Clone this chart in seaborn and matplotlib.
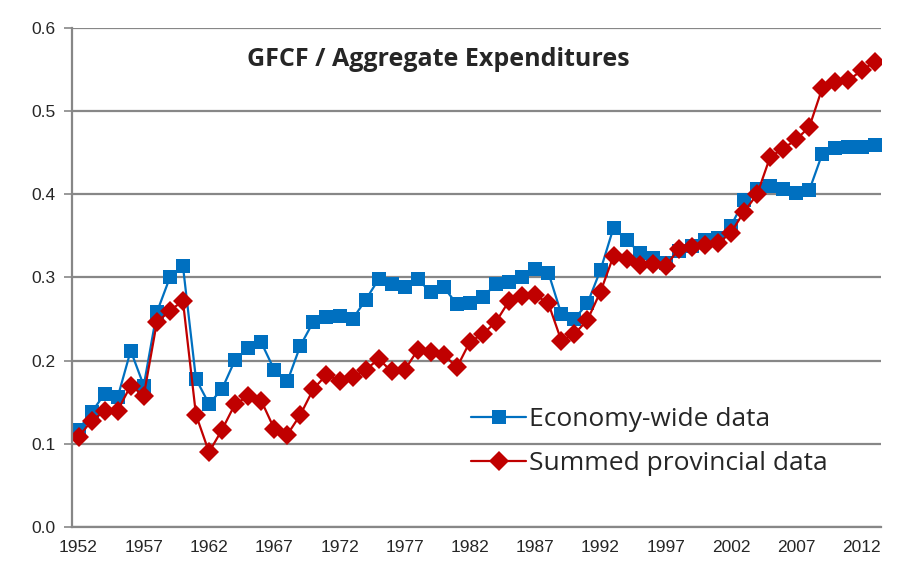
import matplotlib
matplotlib.use("Agg")
import matplotlib.pyplot as plt
import seaborn as sns
import numpy as np
import pandas as pd

years = list(range(1952, 2014))

economy_wide = [
    0.117, 0.138, 0.160, 0.156, 0.212, 0.170, 0.258, 0.300, 0.314, 0.178,
    0.148, 0.166, 0.201, 0.215, 0.222, 0.189, 0.175, 0.218, 0.247, 0.252,
    0.254, 0.250, 0.273, 0.298, 0.292, 0.288, 0.298, 0.282, 0.288, 0.268,
    0.269, 0.277, 0.292, 0.295, 0.300, 0.310, 0.306, 0.256, 0.250, 0.269,
    0.309, 0.360, 0.345, 0.330, 0.323, 0.317, 0.332, 0.338, 0.345, 0.348,
    0.362, 0.393, 0.407, 0.410, 0.407, 0.401, 0.405, 0.449, 0.456, 0.457,
    0.457, 0.459,
]

summed_provincial = [
    0.108, 0.128, 0.139, 0.140, 0.170, 0.158, 0.246, 0.260, 0.272, 0.135,
    0.090, 0.117, 0.148, 0.157, 0.152, 0.118, 0.111, 0.135, 0.166, 0.183,
    0.176, 0.180, 0.189, 0.202, 0.187, 0.189, 0.213, 0.210, 0.207, 0.192,
    0.223, 0.232, 0.247, 0.272, 0.278, 0.279, 0.269, 0.224, 0.232, 0.249,
    0.283, 0.326, 0.322, 0.315, 0.316, 0.314, 0.334, 0.337, 0.339, 0.341,
    0.354, 0.379, 0.400, 0.445, 0.455, 0.466, 0.481, 0.528, 0.535, 0.537,
    0.549, 0.559,
]

series_names = ["Economy-wide data", "Summed provincial data"]
tick_years = list(range(1952, 2013, 5))

df = pd.DataFrame({"year": years, "economy": economy_wide, "provincial": summed_provincial})

sns.set_style("white")
plt.rcParams["font.family"] = ["Liberation Sans", "DejaVu Sans"]

fig = plt.figure(figsize=(9.01, 5.61), dpi=100)
ax = fig.add_axes([0.0799, 0.0606, 0.898, 0.8895])

grid_color = "#878787"
ax.set_ylim(0, 0.6)
ax.set_xlim(1951.5, 2013.5)
ax.set_yticks(np.arange(0, 0.61, 0.1))
ax.yaxis.grid(True, color=grid_color, linewidth=1.6)
ax.set_axisbelow(True)

sns.lineplot(data=df, x="year", y="economy", ax=ax, color="#0070C0", linewidth=1.6,
             marker="s", markersize=10.5, markeredgewidth=0, label=series_names[0])
sns.lineplot(data=df, x="year", y="provincial", ax=ax, color="#C00000", linewidth=1.6,
             marker="D", markersize=10, markeredgewidth=0, label=series_names[1])

# x ticks: labels at category centres, tick marks at category boundaries
ax.set_xticks(tick_years)
ax.set_xticklabels([str(y) for y in tick_years])
ax.set_xticks([y - 0.5 for y in tick_years], minor=True)
ax.tick_params(axis="x", which="major", length=0, pad=9, labelsize=12.5)
ax.tick_params(axis="x", which="minor", length=6, width=1.2, color=grid_color, direction="out")
ax.set_yticklabels([f"{v:.1f}" for v in np.arange(0, 0.61, 0.1)])
ax.tick_params(axis="y", length=6, width=1.2, color=grid_color, direction="out", labelsize=12.5, pad=6)
ax.tick_params(bottom=False, which="major")
ax.tick_params(left=True)

for side in ["top", "right"]:
    ax.spines[side].set_visible(False)
for side in ["left", "bottom"]:
    ax.spines[side].set_color(grid_color)
    ax.spines[side].set_linewidth(1.6)

ax.set_xlabel("")
ax.set_ylabel("")

ax.text(0.453, 0.936, "GFCF / Aggregate Expenditures", transform=ax.transAxes,
        ha="center", va="center", fontsize=18, fontweight="bold", family="Open Sans")

leg = ax.legend(loc="upper left", bbox_to_anchor=(0.48, 0.261), frameon=False,
                prop={"family": "Open Sans", "size": 19}, handlelength=2.1,
                labelspacing=0.72, handletextpad=0.1, borderaxespad=0)

fig.savefig("out.png", dpi=100)
